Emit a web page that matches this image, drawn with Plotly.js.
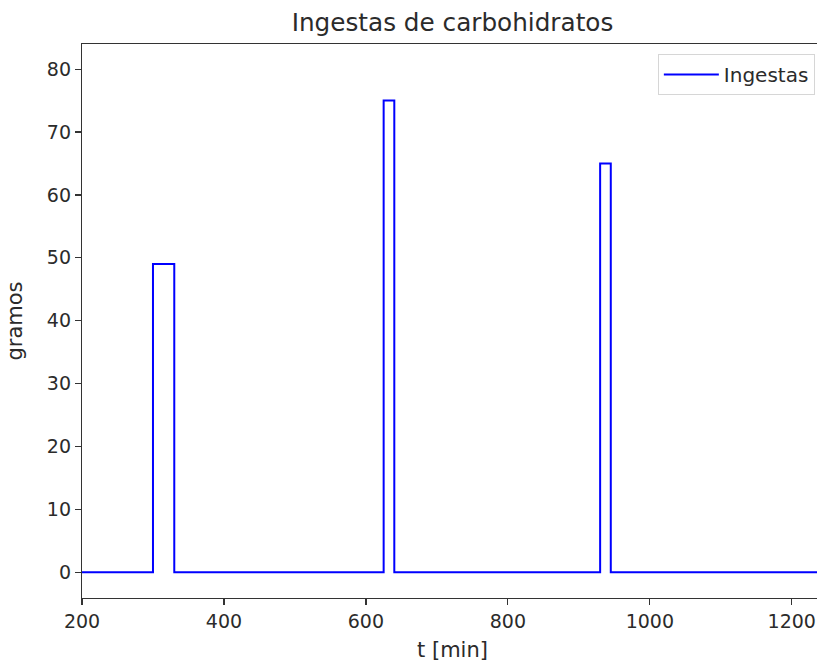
<!DOCTYPE html>
<html>
<head>
<meta charset="utf-8">
<script src="https://cdn.plot.ly/plotly-3.0.1.min.js"></script>
<style>
html,body{margin:0;padding:0;overflow:hidden;background:#fff;}
#chart{width:842px;height:664px;}
</style>
</head>
<body>
<div id="chart"></div>
<script>
// Step series of carbohydrate intakes (time in minutes, grams)
const tiempo = [200, 300, 330, 625, 640, 930, 945, 1300];
const gramos = [0, 49, 0, 75, 0, 65, 0, 0];
const xTicks = [200, 400, 600, 800, 1000, 1200];
const yTicks = [0, 10, 20, 30, 40, 50, 60, 70, 80];

const font = 'DejaVu Sans, sans-serif';
const axisCol = '#333333';
const txtCol = '#2b2b2b';

const trace = {
  x: tiempo,
  y: gramos,
  type: 'scatter',
  mode: 'lines',
  line: {shape: 'hv', color: '#0000ff', width: 2},
  name: 'Ingestas'
};

const layout = {
  width: 842,
  height: 664,
  margin: {l: 82, r: 19, t: 44, b: 66},
  paper_bgcolor: '#ffffff',
  plot_bgcolor: '#ffffff',
  font: {family: font, color: txtCol, size: 19},
  title: {text: 'Ingestas de carbohidratos', x: 0.5, xref: 'paper', y: 0.967, yanchor: 'middle',
          font: {family: font, size: 24.7, color: txtCol}},
  showlegend: true,
  legend: {x: 0.989, xanchor: 'right', y: 0.982, yanchor: 'top', itemwidth: 55,
           bgcolor: 'rgba(255,255,255,0.9)', bordercolor: '#d6d6d6', borderwidth: 1,
           font: {family: font, size: 20, color: txtCol}},
  xaxis: {
    range: [200, 1244],
    tickvals: xTicks,
    ticktext: xTicks.map(String),
    showgrid: false, zeroline: false,
    showline: true, mirror: true, linecolor: axisCol, linewidth: 1.2,
    ticks: 'outside', ticklen: 6, tickwidth: 1.2, tickcolor: axisCol,
    tickfont: {family: font, size: 19, color: txtCol},
    title: {text: 't [min]', font: {family: font, size: 21, color: txtCol}, standoff: 11}
  },
  yaxis: {
    range: [-4.1, 84],
    tickvals: yTicks,
    ticktext: yTicks.map(String),
    showgrid: false, zeroline: false,
    showline: true, mirror: true, linecolor: axisCol, linewidth: 1.2,
    ticks: 'outside', ticklen: 6, tickwidth: 1.2, tickcolor: axisCol,
    tickfont: {family: font, size: 19, color: txtCol},
    title: {text: 'gramos', font: {family: font, size: 21, color: txtCol}, standoff: 18}
  }
};

Plotly.newPlot('chart', [trace], layout, {displayModeBar: false, staticPlot: true});
</script>
</body>
</html>
